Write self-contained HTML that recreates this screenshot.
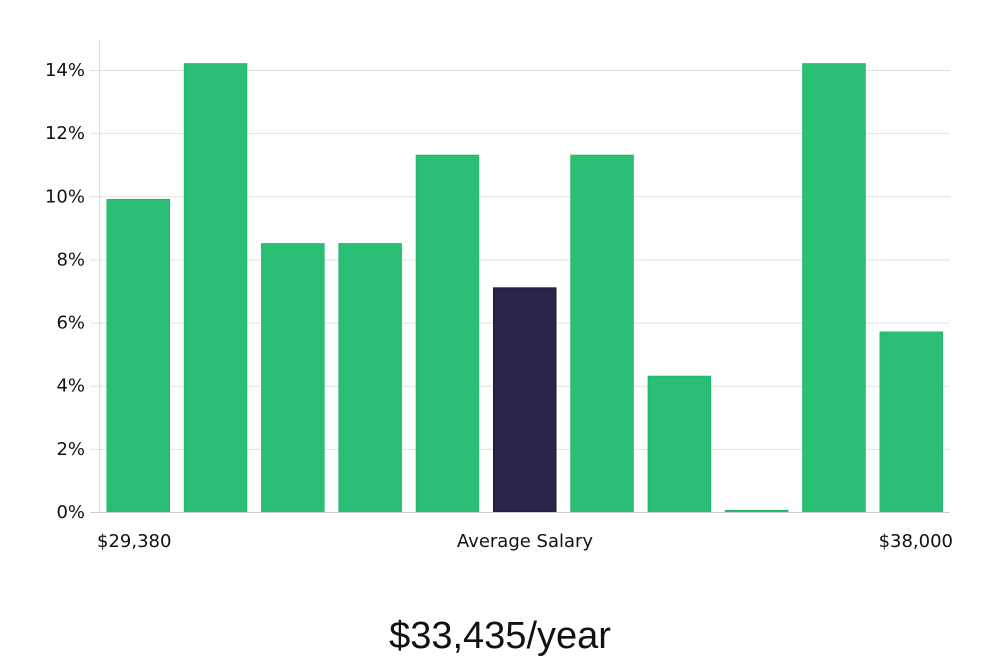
<!DOCTYPE html>
<html><head><meta charset="utf-8"><style>
body{margin:0;background:#fff;width:1000px;height:660px;overflow:hidden;font-family:"DejaVu Sans","Liberation Sans",sans-serif;}
</style></head><body>
<svg id="chart" width="1000" height="660" xmlns="http://www.w3.org/2000/svg">
<g id="grid"></g>
<g id="yaxis"></g>
<g id="bars"></g>
<line x1="99.5" y1="40" x2="99.5" y2="512" stroke="#ddd"/>
<line x1="99" y1="512.5" x2="950" y2="512.5" stroke="#ccc"/>
<text x="97" y="547" font-size="18" fill="#111">$29,380</text>
<text x="525" y="547" font-size="18" fill="#111" text-anchor="middle">Average Salary</text>
<text x="953" y="547" font-size="18" fill="#111" text-anchor="end">$38,000</text>
<text x="500" y="648" font-size="38" fill="#111" text-anchor="middle" font-family="Liberation Sans Narrow, Liberation Sans, sans-serif">$33,435/year</text>
</svg>
<script>
const values = [9.9, 14.2, 8.5, 8.5, 11.3, 7.1, 11.3, 4.3, 0.05, 14.2, 5.7];
const highlightIndex = 5;
const yTicks = [0, 2, 4, 6, 8, 10, 12, 14];
const ns = "http://www.w3.org/2000/svg";
const y = v => 512 - v * (442 / 14);
const x0 = 107, step = 77.3, bw = 62.5;
const grid = document.getElementById('grid'), ya = document.getElementById('yaxis'), bars = document.getElementById('bars');
yTicks.forEach(t => {
  const l = document.createElementNS(ns, 'line');
  
  
  l.setAttribute('x1', 90); l.setAttribute('x2', 950);
  l.setAttribute('y1', y(t) + 0.5); l.setAttribute('y2', y(t) + 0.5);
  l.setAttribute('stroke', t === 0 ? '#ccc' : '#e2e2e2');
  grid.appendChild(l);
  const tx = document.createElementNS(ns, 'text');
  
  
  tx.setAttribute('x', 85); tx.setAttribute('y', y(t) + 6);
  tx.setAttribute('text-anchor', 'end'); tx.setAttribute('font-size', '18'); tx.setAttribute('fill', '#111');
  tx.textContent = t + '%';
  ya.appendChild(tx);
});
values.forEach((v, i) => {
  const r = document.createElementNS(ns, 'rect');
  
  
  r.setAttribute('x', x0 + i * step); r.setAttribute('width', bw);
  r.setAttribute('y', y(v)); r.setAttribute('height', 512 - y(v));
  r.setAttribute('fill', i === highlightIndex ? '#29244a' : '#2bbf75');
  r.setAttribute('stroke', i === highlightIndex ? '#1d1838' : '#22b86c');
  bars.appendChild(r);
});
</script>
</body></html>
